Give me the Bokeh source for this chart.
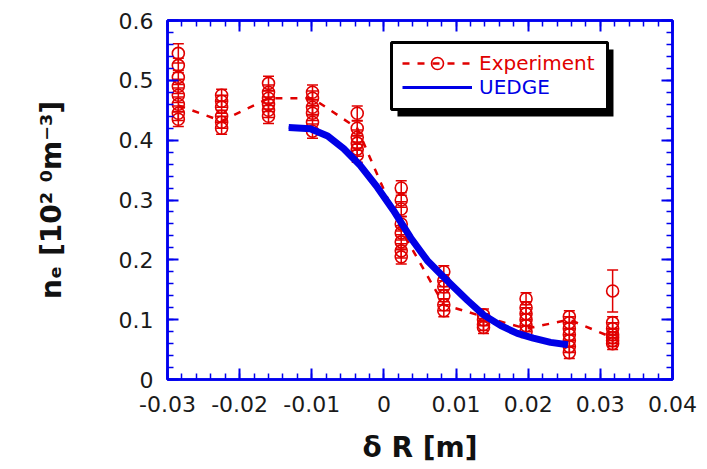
import numpy as np
from bokeh.plotting import figure
from bokeh.models import (Range1d, FixedTicker, LinearAxis, Whisker, TeeHead,
                          ColumnDataSource, Legend, LegendItem, BoxAnnotation)
from bokeh.embed import file_html
from bokeh.resources import INLINE

# ---------------- data ----------------
exp_x = [-0.0285, -0.0225, -0.0160, -0.0099, -0.0037, 0.0024,
         0.0083, 0.0138, 0.0197, 0.0257, 0.0317]
exp_values = [
    [0.545, 0.525, 0.505, 0.490, 0.475, 0.460, 0.445, 0.435],
    [0.475, 0.465, 0.455, 0.440, 0.430, 0.420],
    [0.495, 0.480, 0.470, 0.460, 0.450, 0.440],
    [0.480, 0.470, 0.455, 0.445, 0.430, 0.415],
    [0.445, 0.420, 0.405, 0.395, 0.385, 0.375],
    [0.320, 0.300, 0.285, 0.260, 0.245, 0.230, 0.215, 0.205],
    [0.180, 0.165, 0.155, 0.140, 0.125, 0.115],
    [0.108, 0.100, 0.092, 0.087],
    [0.135, 0.120, 0.110, 0.100, 0.090, 0.080],
    [0.105, 0.095, 0.085, 0.075, 0.065, 0.055, 0.045],
    [0.148, 0.095, 0.085, 0.075, 0.070, 0.065, 0.060],
]
exp_errors = [
    [0.016, 0.012, 0.012, 0.012, 0.012, 0.012, 0.012, 0.012],
    [0.010, 0.010, 0.010, 0.010, 0.010, 0.010],
    [0.012, 0.012, 0.012, 0.012, 0.012, 0.012],
    [0.012, 0.012, 0.012, 0.012, 0.012, 0.012],
    [0.012, 0.012, 0.012, 0.012, 0.012, 0.012],
    [0.012, 0.012, 0.012, 0.012, 0.012, 0.012, 0.012, 0.012],
    [0.010, 0.010, 0.010, 0.010, 0.010, 0.010],
    [0.010, 0.010, 0.010, 0.010],
    [0.010, 0.010, 0.010, 0.010, 0.010, 0.010],
    [0.010, 0.010, 0.010, 0.010, 0.010, 0.010, 0.010],
    [0.035, 0.010, 0.010, 0.010, 0.010, 0.010, 0.010],
]
exp_profile = [0.458, 0.432, 0.470, 0.470, 0.420, 0.250,
               0.125, 0.105, 0.085, 0.100, 0.070]

uedge_x = [-0.0132, -0.0102, -0.0078, -0.0056, -0.0033, -0.0009, 0.0013,
           0.0037, 0.0060, 0.0092, 0.0116, 0.0138, 0.0162, 0.0185, 0.0207,
           0.0231, 0.0255]
uedge_y = [0.421, 0.419, 0.407, 0.386, 0.358, 0.321, 0.283, 0.237, 0.199,
           0.160, 0.132, 0.108, 0.090, 0.077, 0.069, 0.062, 0.058]

x_ticks = [-0.03, -0.02, -0.01, 0.0, 0.01, 0.02, 0.03, 0.04]
x_tick_labels = ["-0.03", "-0.02", "-0.01", "0", "0.01", "0.02", "0.03", "0.04"]
y_ticks = [0.0, 0.1, 0.2, 0.3, 0.4, 0.5, 0.6]
y_tick_labels = ["0", "0.1", "0.2", "0.3", "0.4", "0.5", "0.6"]

# ---------------- style ----------------
RED = "#e00000"
BLUE = "#0000e6"
AXBLUE = "#0000ee"
TICK_FONT = "DejaVu Sans"

px, py, plo, phi = [], [], [], []
for xc, vals, errs in zip(exp_x, exp_values, exp_errors):
    for v, e in zip(vals, errs):
        px.append(xc)
        py.append(v)
        plo.append(v - e)
        phi.append(v + e)
pts = ColumnDataSource(dict(x=px, y=py, lower=plo, upper=phi))

p = figure(width=707, height=469,
           x_range=Range1d(-0.03, 0.04), y_range=Range1d(0, 0.6),
           output_backend="svg", toolbar_location=None,
           min_border_left=167, min_border_right=35,
           min_border_top=20, min_border_bottom=90,
           background_fill_color="white", border_fill_color="white")
p.grid.visible = False
p.outline_line_color = AXBLUE
p.outline_line_width = 2.5

x_minor = list(np.round(np.arange(-0.03, 0.0401, 0.002), 4))
y_minor = list(np.round(np.arange(0.0, 0.601, 0.02), 3))
xt = FixedTicker(ticks=x_ticks, minor_ticks=x_minor)
yt = FixedTicker(ticks=y_ticks, minor_ticks=y_minor)

def style_axis(ax, ticker, labels=None, ticks=None):
    ax.ticker = ticker
    ax.axis_line_color = AXBLUE
    ax.axis_line_width = 2.5
    ax.major_tick_line_color = AXBLUE
    ax.major_tick_line_width = 2
    ax.minor_tick_line_color = AXBLUE
    ax.minor_tick_line_width = 1.5
    ax.major_tick_in = 11
    ax.major_tick_out = 0
    ax.minor_tick_in = 6
    ax.minor_tick_out = 0
    if labels is not None:
        ax.major_label_overrides = {t: l for t, l in zip(ticks, labels)}
        ax.major_label_text_font = TICK_FONT
        ax.major_label_text_font_size = "22px"
        ax.major_label_text_color = "#1a1a1a"
    else:
        ax.major_label_text_color = None
        ax.major_label_text_font_size = "1px"
        ax.major_label_standoff = 0

xax = p.xaxis[0]
style_axis(xax, xt, x_tick_labels, x_ticks)
xax.major_label_standoff = 16
xax.axis_label = "δ R [m]"
xax.axis_label_text_font = "DejaVu Sans"
xax.axis_label_text_font_style = "bold"
xax.axis_label_text_font_size = "28px"
xax.axis_label_text_color = "#111111"
xax.axis_label_standoff = 16

yax = p.yaxis[0]
style_axis(yax, yt, y_tick_labels, y_ticks)
yax.major_label_standoff = 14
yax.axis_label = "nₑ [10² ⁰m⁻³]"
yax.axis_label_text_font = "DejaVu Sans"
yax.axis_label_text_font_style = "bold"
yax.axis_label_text_font_size = "28px"
yax.axis_label_text_color = "#111111"
yax.axis_label_standoff = 48

top_ax = LinearAxis()
style_axis(top_ax, xt)
p.add_layout(top_ax, "above")
right_ax = LinearAxis()
style_axis(right_ax, yt)
p.add_layout(right_ax, "right")

# ---------------- data marks ----------------
p.add_layout(Whisker(base="x", lower="lower", upper="upper", source=pts,
                     line_color=RED, line_width=1.5,
                     upper_head=TeeHead(size=11, line_color=RED, line_width=1.5),
                     lower_head=TeeHead(size=11, line_color=RED, line_width=1.5)))
dash_r = p.line(exp_x, exp_profile, line_color=RED, line_width=2.5,
                line_dash="7 8")
circ_r = p.scatter("x", "y", source=pts, marker="circle", size=12,
                   fill_color=None, line_color=RED, line_width=1.6)
# thin copy of the UEDGE curve (hidden under the thick one) used as legend key
uedge_key = p.line(uedge_x, uedge_y, line_color=BLUE, line_width=3)
uedge_r = p.line(uedge_x, uedge_y, line_color=BLUE, line_width=7,
                 line_join="round", line_cap="butt")

# ---------------- legend ----------------
shadow = BoxAnnotation(left=0.00188, right=0.03182, top=0.5515, bottom=0.4396,
                       fill_color="black", fill_alpha=1, line_color=None)
box = BoxAnnotation(left=0.00105, right=0.03099, top=0.5632, bottom=0.4513,
                    fill_color="white", fill_alpha=1, line_color="black",
                    line_alpha=1, line_width=3)
p.add_layout(shadow)
p.add_layout(box)

def make_legend(label, rends, color, loc, h):
    return Legend(items=[LegendItem(label=label, renderers=rends)],
                  location=loc, padding=0, margin=0, spacing=0,
                  border_line_color=None, background_fill_alpha=0,
                  glyph_width=70, glyph_height=h, label_height=h,
                  label_standoff=7, label_text_font=TICK_FONT,
                  label_text_font_size="20px", label_text_color=color)

p.add_layout(make_legend("Experiment", [dash_r, circ_r], RED, (235, 301), 30))
p.add_layout(make_legend("UEDGE", [uedge_key], BLUE, (235, 280), 24))

open("out.html", "w").write(file_html(p, INLINE))
